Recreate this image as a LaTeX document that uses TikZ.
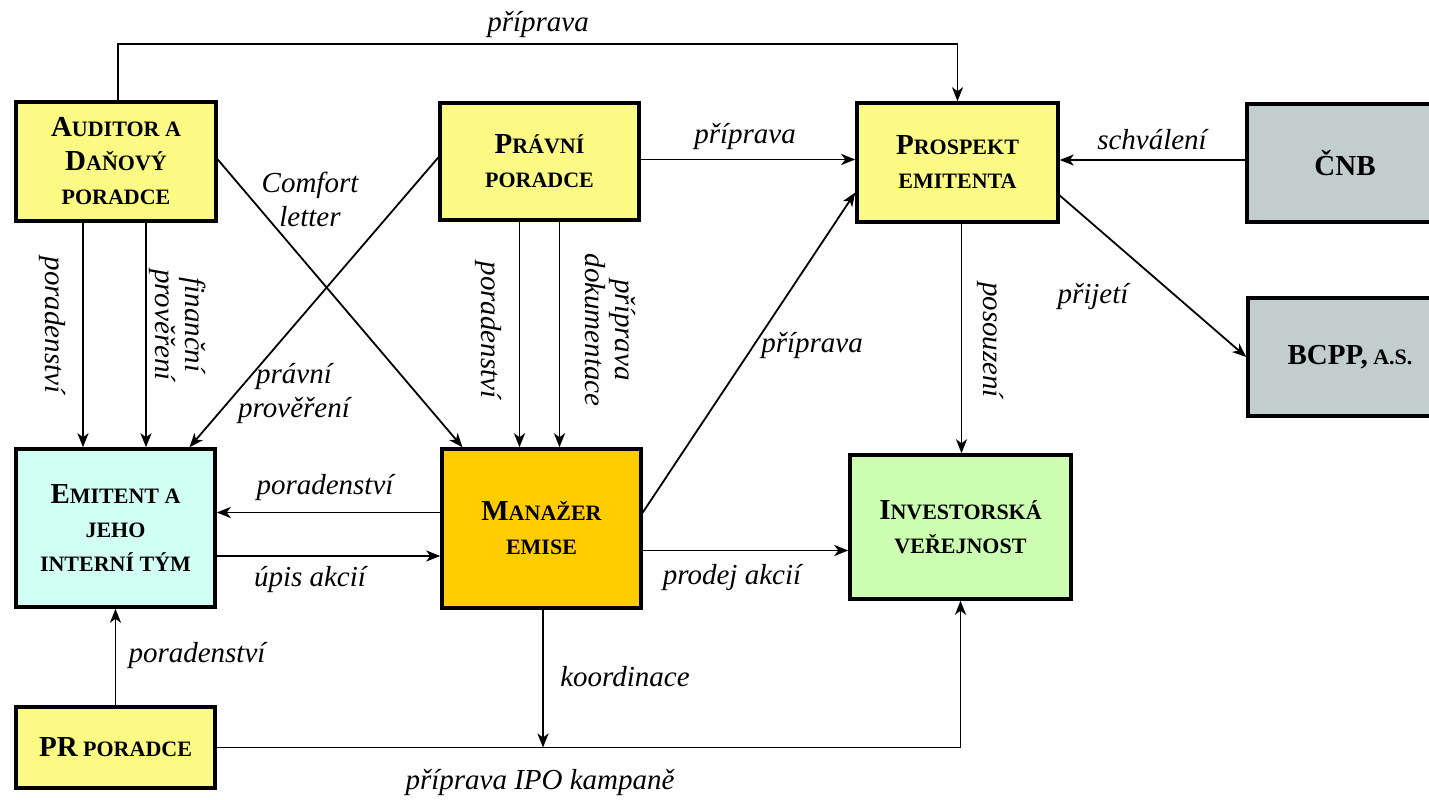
\documentclass[tikz,border=0pt]{standalone}
\usepackage{fontspec}
\setmainfont{Liberation Serif}
\usetikzlibrary{arrows.meta,calc}
\definecolor{cyel}{HTML}{FAFA85}
\definecolor{ccyan}{HTML}{D2FFF4}
\definecolor{corange}{HTML}{FFCC00}
\definecolor{cgreen}{HTML}{CCFFB2}
\definecolor{cgrey}{HTML}{C2CECD}
\newcommand\BL[1]{{\fontsize{29}{34}\selectfont #1}}
\begin{document}
\begin{tikzpicture}[x=1pt,y={(0pt,-1pt)},
  box/.style={draw, line width=3.5pt, inner sep=0pt, align=center,
    font=\bfseries\fontsize{22}{34}\selectfont},
  arr/.style={-{Stealth[length=14pt,width=11pt,inset=4pt]}, line width=1.8pt},
  lbl/.style={font=\itshape\fontsize{29}{34}\selectfont, align=center, inner sep=0pt},
  vlbl/.style={lbl, rotate=-90}]
\useasboundingbox (0,0) rectangle (1429,800);

\node[box, fill=cyel, minimum width=200pt, minimum height=119pt] (aud) at (116,161.5)
  {\BL{A}UDITOR A\\\BL{D}AŇOVÝ\\PORADCE};
\node[box, fill=cyel, minimum width=199pt, minimum height=117pt] (pra) at (539.5,161.5)
  {\BL{P}RÁVNÍ\\PORADCE};
\node[box, fill=cyel, minimum width=201pt, minimum height=119pt] (pro) at (957.5,162.5)
  {\BL{P}ROSPEKT\\EMITENTA};
\node[box, fill=cgrey, minimum width=196pt, minimum height=118pt] (cnb) at (1345,163)
  {\BL{ČNB}};
\node[box, fill=cgrey, minimum width=204pt, minimum height=118pt] (bcpp) at (1350,357)
  {\BL{BCPP,} A.S.};
\node[box, fill=ccyan, minimum width=199pt, minimum height=158pt] (emi) at (115.5,528)
  {\BL{E}MITENT A\\JEHO\\INTERNÍ TÝM};
\node[box, fill=corange, minimum width=199pt, minimum height=159pt] (man) at (541.5,528.5)
  {\BL{M}ANAŽER\\EMISE};
\node[box, fill=cgreen, minimum width=221pt, minimum height=144pt] (inv) at (960.5,527)
  {\BL{I}NVESTORSKÁ\\VEŘEJNOST};
\node[box, fill=cyel, minimum width=199pt, minimum height=81pt] (pr) at (115.5,747.5)
  {\BL{PR} PORADCE};

\coordinate (top) at (0,44);

% connectors
\draw[arr] ([xshift=2pt]aud.north) -- ([xshift=2pt]aud.north |- top) -| (pro.north);
\draw[arr] ([xshift=-33pt]aud.south) -- ([xshift=-33pt]aud.south |- emi.north);
\draw[arr] ([xshift=30pt]aud.south) -- ([xshift=30pt]aud.south |- emi.north);
\draw[arr] ([yshift=2pt]aud.east) -- ([xshift=-79pt]man.north);
\draw[arr] ([yshift=4pt]pra.west) -- ([xshift=74pt]emi.north);
\draw[arr] ([xshift=-20pt]pra.south) -- ([xshift=-20pt]pra.south |- man.north);
\draw[arr] ([xshift=20pt]pra.south) -- ([xshift=20pt]pra.south |- man.north);
\draw[arr] ([yshift=2pt]pra.east) -- ([yshift=2pt]pra.east -| pro.west);
\draw[arr] ([yshift=16pt]man.east) -- ([yshift=-30pt]pro.west);
\draw[arr] ([yshift=3pt]cnb.west) -- ([yshift=3pt]cnb.west -| pro.east);
\draw[arr] ([yshift=-33pt]pro.east) -- (bcpp.west);
\draw[arr] ([xshift=4pt]pro.south) -- ([xshift=4pt]pro.south |- inv.north);
\draw[arr] ([yshift=16pt]man.west) -- ([yshift=16pt]man.west -| emi.east);
\draw[arr] ([yshift=-28pt]emi.east) -- ([yshift=-28pt]emi.east -| man.west);
\draw[arr] ([yshift=-22pt]man.east) -- ([yshift=-22pt]man.east -| inv.west);
\draw[arr] (pr.north) -- (emi.south);
\draw[arr] ([xshift=1.5pt]man.south) -- ([xshift=1.5pt]man.south |- pr.east);
\draw[arr] (pr.east) -| (inv.south);

% labels
\node[lbl] (l1) at (538,25) {příprava};
\node[lbl] (l2) at (310,199) {Comfort\\letter};
\node[vlbl] (l3) at (52,325) {poradenství};
\node[vlbl, font=\itshape\fontsize{29}{30}\selectfont] (l4) at (178,325) {finanční\\prověření};
\node[lbl] (l5) at (294,394) {právní\\prověření};
\node[vlbl] (l6) at (488,330) {poradenství};
\node[vlbl, font=\itshape\fontsize{29}{30}\selectfont] (l7) at (610,330) {příprava\\dokumentace};
\node[lbl] (l8) at (745,137) {příprava};
\node[lbl] (l9) at (812,346) {příprava};
\node[lbl] (l10) at (1152,140) {schválení};
\node[lbl] (l11) at (1093,297) {přijetí};
\node[vlbl] (l12) at (990,340) {posouzení};
\node[lbl] (l13) at (325,488) {poradenství};
\node[lbl] (l14) at (310,580) {úpis akcií};
\node[lbl] (l15) at (732,578) {prodej akcií};
\node[lbl] (l16) at (197,656) {poradenství};
\node[lbl] (l17) at (625,677) {koordinace};
\node[lbl] (l18) at (540,782) {příprava IPO kampaně};
\end{tikzpicture}
\end{document}
